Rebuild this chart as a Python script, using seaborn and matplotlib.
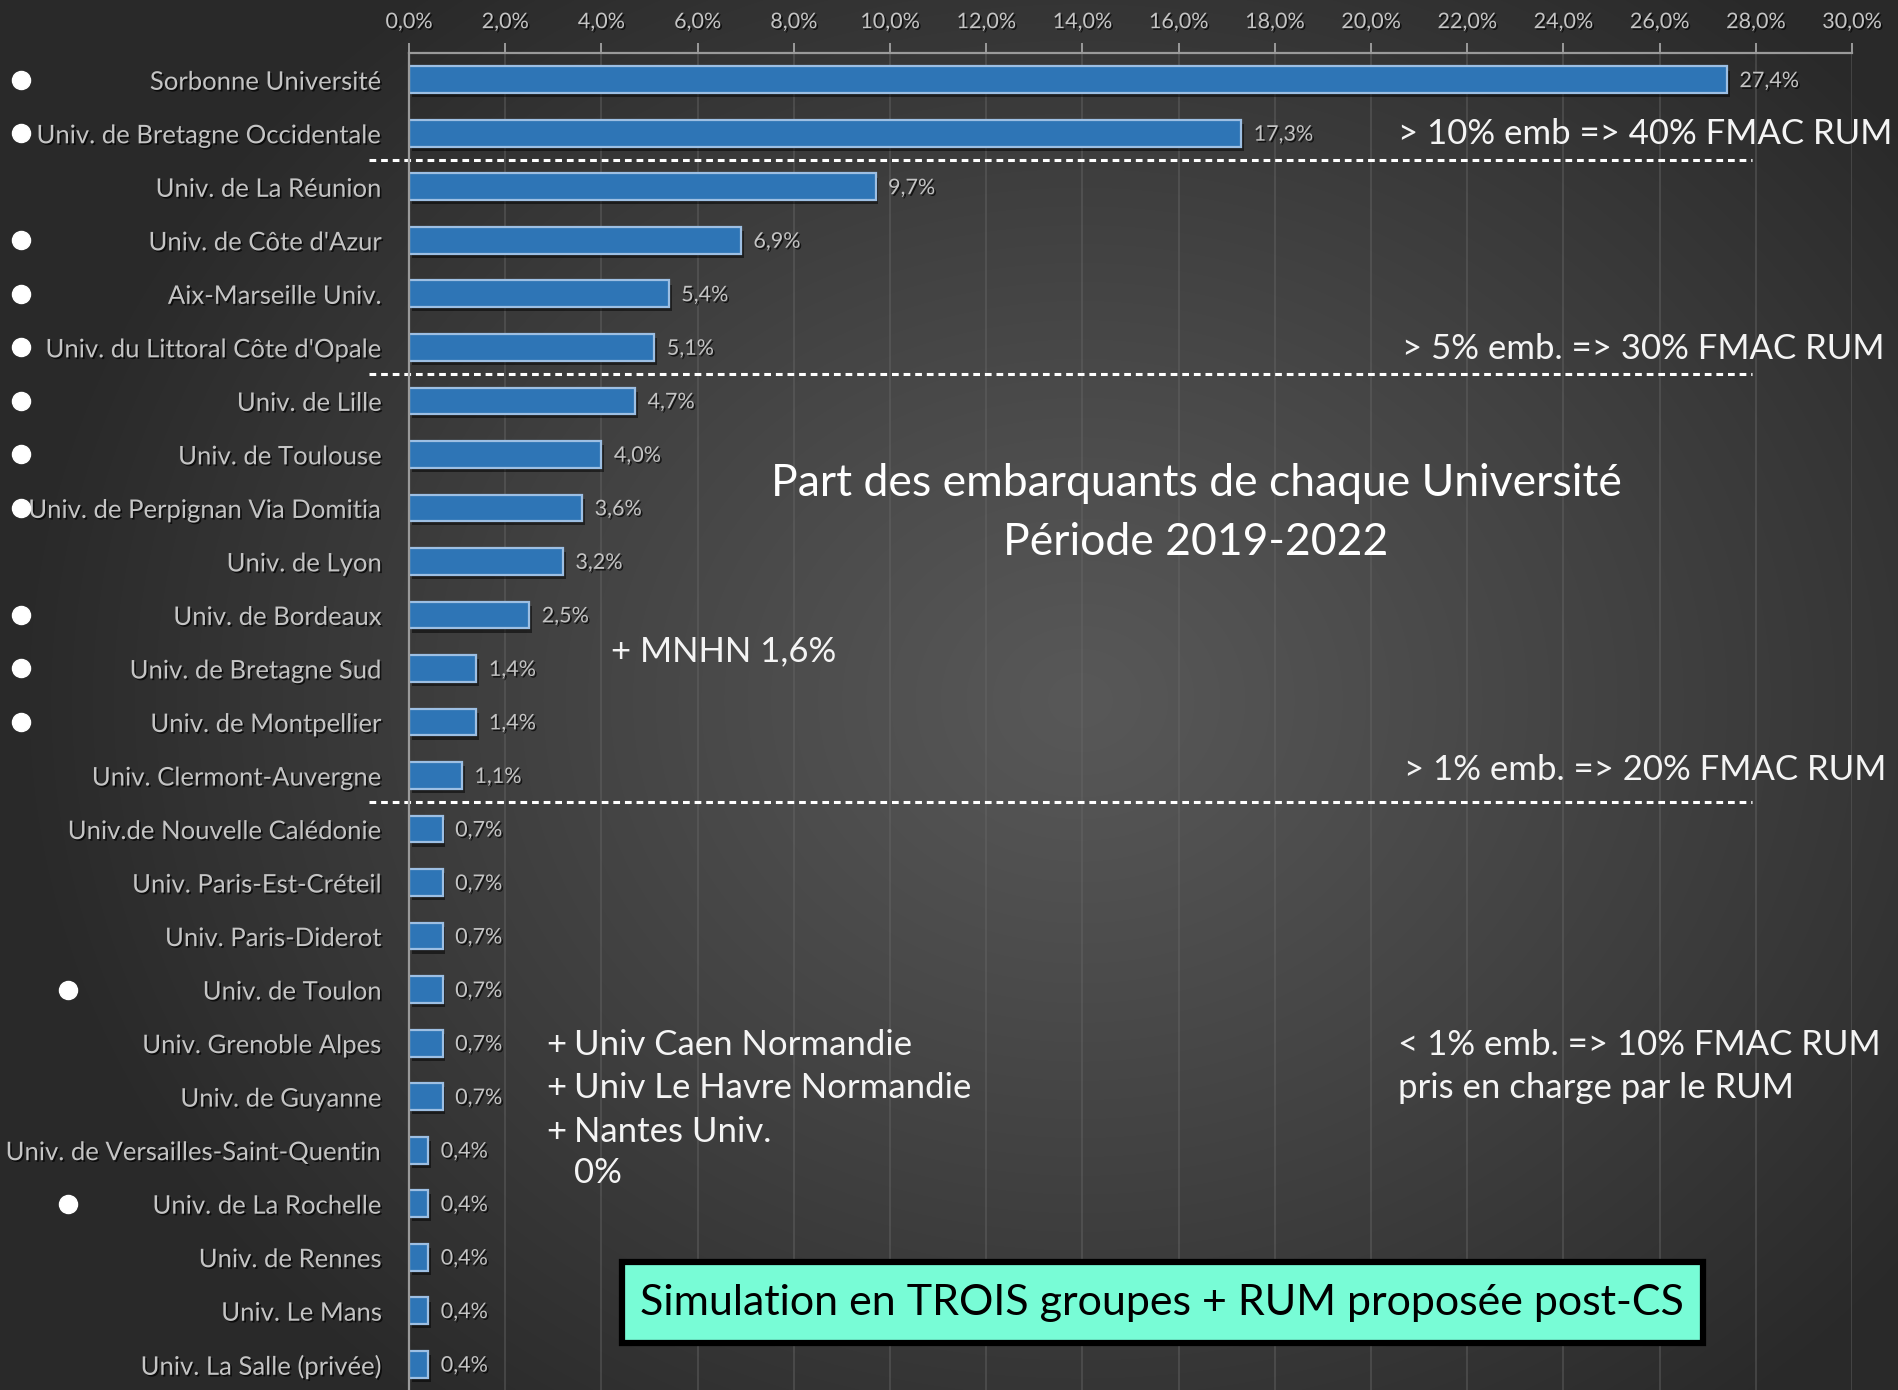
import numpy as np
import pandas as pd
import matplotlib
matplotlib.use("Agg")
import matplotlib.pyplot as plt
import matplotlib.transforms as mtransforms
import matplotlib.patheffects as pe
from matplotlib.patches import Rectangle
from matplotlib.ticker import FuncFormatter, MultipleLocator
import seaborn as sns

# ---------------- data ----------------
universities = [
    "Sorbonne Université",
    "Univ. de Bretagne Occidentale",
    "Univ. de La Réunion",
    "Univ. de Côte d'Azur",
    "Aix-Marseille Univ.",
    "Univ. du Littoral Côte d'Opale",
    "Univ. de Lille",
    "Univ. de Toulouse",
    "Univ. de Perpignan Via Domitia",
    "Univ. de Lyon",
    "Univ. de Bordeaux",
    "Univ. de Bretagne Sud",
    "Univ. de Montpellier",
    "Univ. Clermont-Auvergne",
    "Univ.de Nouvelle Calédonie",
    "Univ. Paris-Est-Créteil",
    "Univ. Paris-Diderot",
    "Univ. de Toulon",
    "Univ. Grenoble Alpes",
    "Univ. de Guyanne",
    "Univ. de Versailles-Saint-Quentin",
    "Univ. de La Rochelle",
    "Univ. de Rennes",
    "Univ. Le Mans",
    "Univ. La Salle (privée)",
]
shares = [27.4, 17.3, 9.7, 6.9, 5.4, 5.1, 4.7, 4.0, 3.6, 3.2, 2.5, 1.4, 1.4, 1.1,
          0.7, 0.7, 0.7, 0.7, 0.7, 0.7, 0.4, 0.4, 0.4, 0.4, 0.4]
# white dot markers: row index -> column (0 = far left, 1 = indented)
dot_rows_left = [0, 1, 3, 4, 5, 6, 7, 8, 10, 11, 12]
dot_rows_indent = [17, 21]
group_separators = [1.5, 5.5, 13.5]

title_text = "Part des embarquants de chaque Université\nPériode 2019-2022"
group_labels = ["> 10% emb => 40% FMAC RUM",
                "> 5% emb. => 30% FMAC RUM",
                "> 1% emb. => 20% FMAC RUM",
                "< 1% emb. => 10% FMAC RUM",
                "pris en charge par le RUM"]
extra_note = "+ MNHN 1,6%"
zero_note = ["+", "+", "+"]
zero_names = ["Univ Caen Normandie", "Univ Le Havre Normandie", "Nantes Univ.", "0%"]
box_text = "Simulation en TROIS groupes + RUM proposée post-CS"

df = pd.DataFrame({"univ": universities, "share": shares})

# ---------------- figure ----------------
W, H = 1898, 1390
DPI = 100
sns.set_theme(style="dark")
plt.rcParams["font.family"] = ["Lato", "DejaVu Sans"]

fig = plt.figure(figsize=(W / DPI, H / DPI), dpi=DPI)

# radial gradient background
bg = fig.add_axes([0, 0, 1, 1], zorder=-10)
yy, xx = np.mgrid[0:H, 0:W]
d = np.sqrt(((xx - 1080) / 1.0) ** 2 + ((yy - 700) / 0.85) ** 2)
t = np.clip(d / 1050.0, 0, 1) ** 1.1
inner = np.array([0x58, 0x58, 0x58]) / 255
outer = np.array([0x2a, 0x2a, 0x2a]) / 255
img = inner[None, None, :] * (1 - t[..., None]) + outer[None, None, :] * t[..., None]
bg.imshow(img, aspect="auto", extent=[0, 1, 0, 1], origin="upper")
bg.set_axis_off()
fig.patch.set_facecolor("#2e2e2e")

def fx(px):
    return px / W

def fy(py):
    return 1 - py / H

ax = fig.add_axes([fx(409), fy(1391), fx(1852) - fx(409), fy(53) - fy(1391)])
ax.patch.set_alpha(0)

sns.barplot(data=df, x="share", y="univ", orient="h", ax=ax,
            color="#2e75b6", edgecolor="#9dbfe3", linewidth=1.6, width=0.5,
            saturation=1)

for p in ax.patches:
    p.set_path_effects([pe.SimplePatchShadow(offset=(2, -3), shadow_rgbFace="black", alpha=0.5),
                        pe.Normal()])

ax.set_xlim(0, 30)
ax.set_ylim(24.5, -0.5)
ax.xaxis.tick_top()
ax.xaxis.set_major_locator(MultipleLocator(2))
ax.xaxis.set_major_formatter(FuncFormatter(lambda v, _: f"{v:.1f}%".replace(".", ",")))
ax.set_xlabel("")
ax.set_ylabel("")
ax.grid(axis="x", color="#686868", linewidth=1.2, alpha=0.5)
ax.grid(axis="y", visible=False)
for s in ["bottom", "right"]:
    ax.spines[s].set_visible(False)
for s in ["top", "left"]:
    ax.spines[s].set_visible(True)
    ax.spines[s].set_color("#9a9a9a")
    ax.spines[s].set_linewidth(1.6)
ax.tick_params(axis="x", which="major", top=True, direction="out", length=7,
               width=1.4, color="#9a9a9a", labelsize=15.5, labelcolor="#c4c4c4", pad=8)
ax.tick_params(axis="y", left=False, labelsize=18.5, labelcolor="#c4c4c4", pad=13)

shadow = [pe.SimplePatchShadow(offset=(1.2, -1.2), shadow_rgbFace="black", alpha=0.7), pe.Normal()]
for lab in ax.get_yticklabels() + ax.get_xticklabels():
    lab.set_path_effects(shadow)

# data labels
for i, v in enumerate(shares):
    ax.annotate(f"{v:.1f}%".replace(".", ","), xy=(v, i), xytext=(9, -1),
                textcoords="offset points", va="center", ha="left",
                fontsize=15.5, color="#c4c4c4", path_effects=shadow)

# group separators (dashed lines extending left of the axis)
blend = mtransforms.blended_transform_factory(fig.transFigure, ax.transData)
for yv in group_separators:
    ax.plot([fx(369), fx(1752)], [yv, yv], transform=blend, clip_on=False,
            color="white", linewidth=2.2, linestyle=(0, (2.2, 1.6)))

# white dots
ax.plot([fx(21)] * len(dot_rows_left), dot_rows_left, transform=blend, clip_on=False,
        linestyle="none", marker="o", markersize=13, color="white")
ax.plot([fx(68)] * len(dot_rows_indent), dot_rows_indent, transform=blend, clip_on=False,
        linestyle="none", marker="o", markersize=13, color="white")

note = dict(family=["Lato", "DejaVu Sans"], fontweight="normal", color="#f4f4f4", fontsize=25)

fig.text(fx(1398), fy(134), group_labels[0], va="center", ha="left", **note)
fig.text(fx(1402), fy(349), group_labels[1], va="center", ha="left", **note)
fig.text(fx(1404), fy(770), group_labels[2], va="center", ha="left", **note)
fig.text(fx(1398), fy(1045), group_labels[3], va="center", ha="left", **note)
fig.text(fx(1398), fy(1088), group_labels[4], va="center", ha="left", **note)

fig.text(fx(1196), fy(513), title_text, fontsize=32, va="center", ha="center",
         color="white", linespacing=1.55, family=["Lato", "DejaVu Sans"])

fig.text(fx(611), fy(651), extra_note, va="center", ha="left", **note)

for k, name in enumerate(zero_names):
    ypx = [1045, 1088, 1132, 1173][k]
    if k < 3:
        fig.text(fx(546), fy(ypx), zero_note[k], va="center", ha="left", **note)
    fig.text(fx(574), fy(ypx), name, va="center", ha="left", **note)

# highlighted box
rect = Rectangle((fx(622), fy(1343)), fx(1703) - fx(622), fy(1262) - fy(1343),
                 transform=fig.transFigure, facecolor="#78fcd6", edgecolor="black",
                 linewidth=4.5, zorder=5)
fig.patches.append(rect)
fig.text(fx(1162), fy(1303), box_text, fontsize=31, va="center", ha="center",
         color="black", zorder=6, family=["Lato", "DejaVu Sans"])

fig.savefig("out.png", dpi=DPI)
